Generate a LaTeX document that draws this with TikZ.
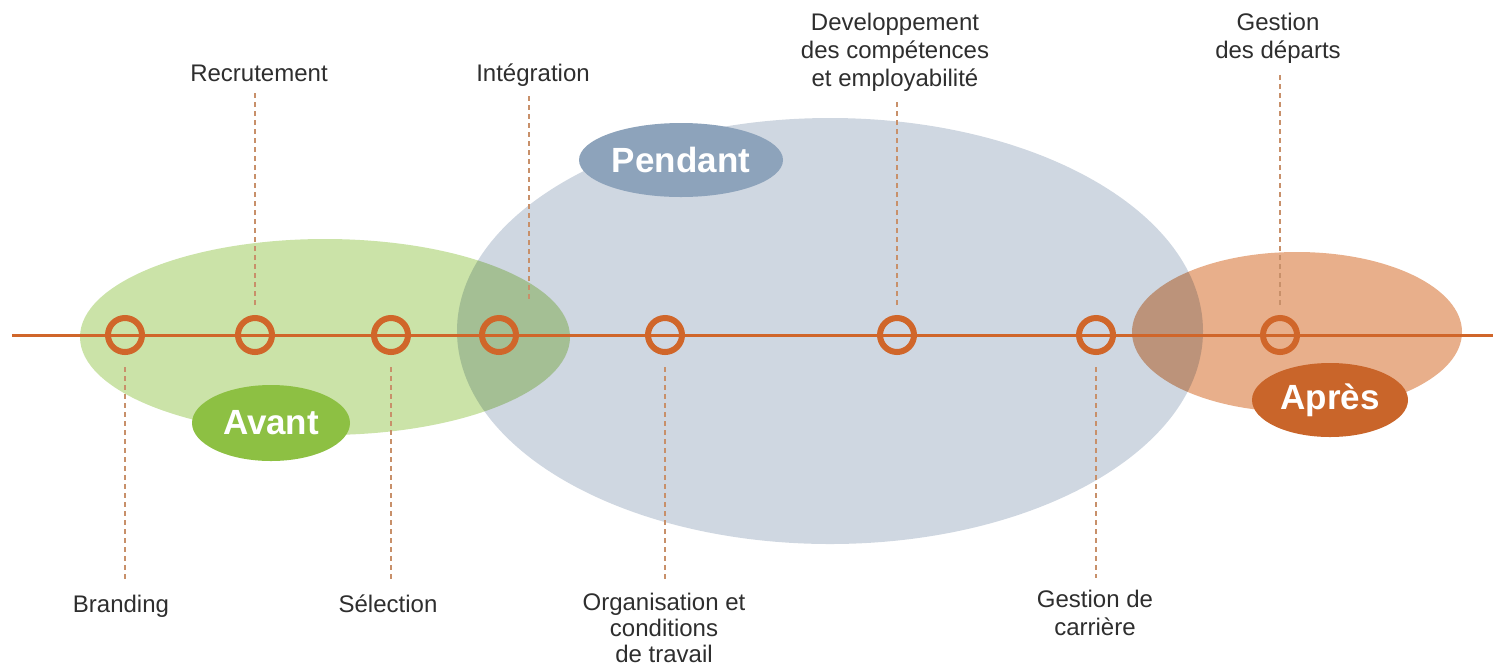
\documentclass[tikz,border=0pt]{standalone}
\usepackage{fontspec}
\setmainfont{Liberation Sans}
\usetikzlibrary{shapes.geometric}
\definecolor{gfill}{HTML}{CBE3A8}
\definecolor{bfill}{HTML}{CFD7E1}
\definecolor{ofill}{HTML}{E8AF8B}
\definecolor{gtag}{HTML}{8DC043}
\definecolor{btag}{HTML}{8DA3BB}
\definecolor{otag}{HTML}{C9652A}
\definecolor{ring}{HTML}{D0662A}
\definecolor{dashc}{HTML}{C8906A}
\definecolor{txt}{HTML}{2E2E2E}
\tikzset{
  phase/.style={ellipse, draw=none, inner sep=0pt, blend mode=multiply},
  tag/.style={ellipse, draw=none, inner sep=0pt, text=white, font=\fontsize{17.5}{20}\selectfont\bfseries},
  ringnode/.style={circle, draw=ring, line width=3pt, minimum size=17pt, inner sep=0pt},
  dashline/.style={draw=dashc, line width=0.6pt, dash pattern=on 2.5pt off 2pt},
  lab/.style={text=txt, align=center, inner sep=0pt, font=\fontsize{12}{14}\selectfont},
  timeline/.style={draw=ring, line width=1.5pt}
}
\begin{document}
\begin{tikzpicture}[x=0.5pt,y=-0.5pt]
\useasboundingbox (0,0) rectangle (1493,666);
% phase ellipses
\node[phase, fill=gfill, minimum width=245pt, minimum height=98pt] (green) at (325,337) {};
\node[phase, fill=bfill, minimum width=373pt, minimum height=213pt] (blue) at (830,331) {};
\node[phase, fill=ofill, minimum width=165pt, minimum height=80pt] (orange) at (1297,332) {};
% timeline
\coordinate (tl) at (12,335);
\coordinate (tr) at (1493,335);
\draw[timeline] (tl) -- (tr);
% rings
\node[ringnode] (c1) at (125,335) {};
\node[ringnode] (c2) at (255,335) {};
\node[ringnode] (c3) at (391,335) {};
\node[ringnode] (c4) at (499,335) {};
\node[ringnode] (c5) at (665,335) {};
\node[ringnode] (c6) at (897,335) {};
\node[ringnode] (c7) at (1096,335) {};
\node[ringnode] (c8) at (1280,335) {};
% tags
\node[tag, fill=gtag, minimum width=79pt, minimum height=38pt] (avant) at (271,423) {Avant};
\node[tag, fill=btag, minimum width=102pt, minimum height=37pt] (pendant) at (681,160) {Pendant};
\node[tag, fill=otag, minimum width=78pt, minimum height=37pt] (apres) at (1330,400) {Après};
% labels top
\node[lab, anchor=base] (recr) at (259,81) {Recrutement};
\node[lab, anchor=base] (integ) at (533,81) {Intégration};
\node[lab, anchor=north] (devel) at (895,13) {Developpement\\des compétences\\et employabilité};
\node[lab, anchor=north] (depart) at (1278,13) {Gestion\\des départs};
% labels bottom
\node[lab, anchor=base] (brand) at (121,612) {Branding};
\node[lab, anchor=base] (selec) at (388,612) {Sélection};
\node[lab, anchor=north, font=\fontsize{12}{13}\selectfont] (organ) at (664,593) {Organisation et\\conditions\\de travail};
\node[lab, anchor=north] (carr) at (1095,590) {Gestion de\\carrière};
% dashed connectors
\coordinate (i1) at (529,300);
\draw[dashline, shorten <=5pt, shorten >=5pt] (c2.north) -- (c2 |- recr.south);
\draw[dashline, shorten <=5pt] (integ.south -| i1) -- (i1);
\draw[dashline, shorten <=5pt, shorten >=5pt] (c6.north) -- (c6 |- devel.south);
\draw[dashline, shorten <=5pt, shorten >=5pt] (c8.north) -- (c8 |- depart.south);
\draw[dashline, shorten <=6pt, shorten >=6pt] (c1.south) -- (c1 |- brand.north);
\draw[dashline, shorten <=6pt, shorten >=6pt] (c3.south) -- (c3 |- selec.north);
\draw[dashline, shorten <=6pt, shorten >=6pt] (c5.south) -- (c5 |- organ.north);
\draw[dashline, shorten <=6pt, shorten >=6pt] (c7.south) -- (c7 |- carr.north);
\end{tikzpicture}
\end{document}
